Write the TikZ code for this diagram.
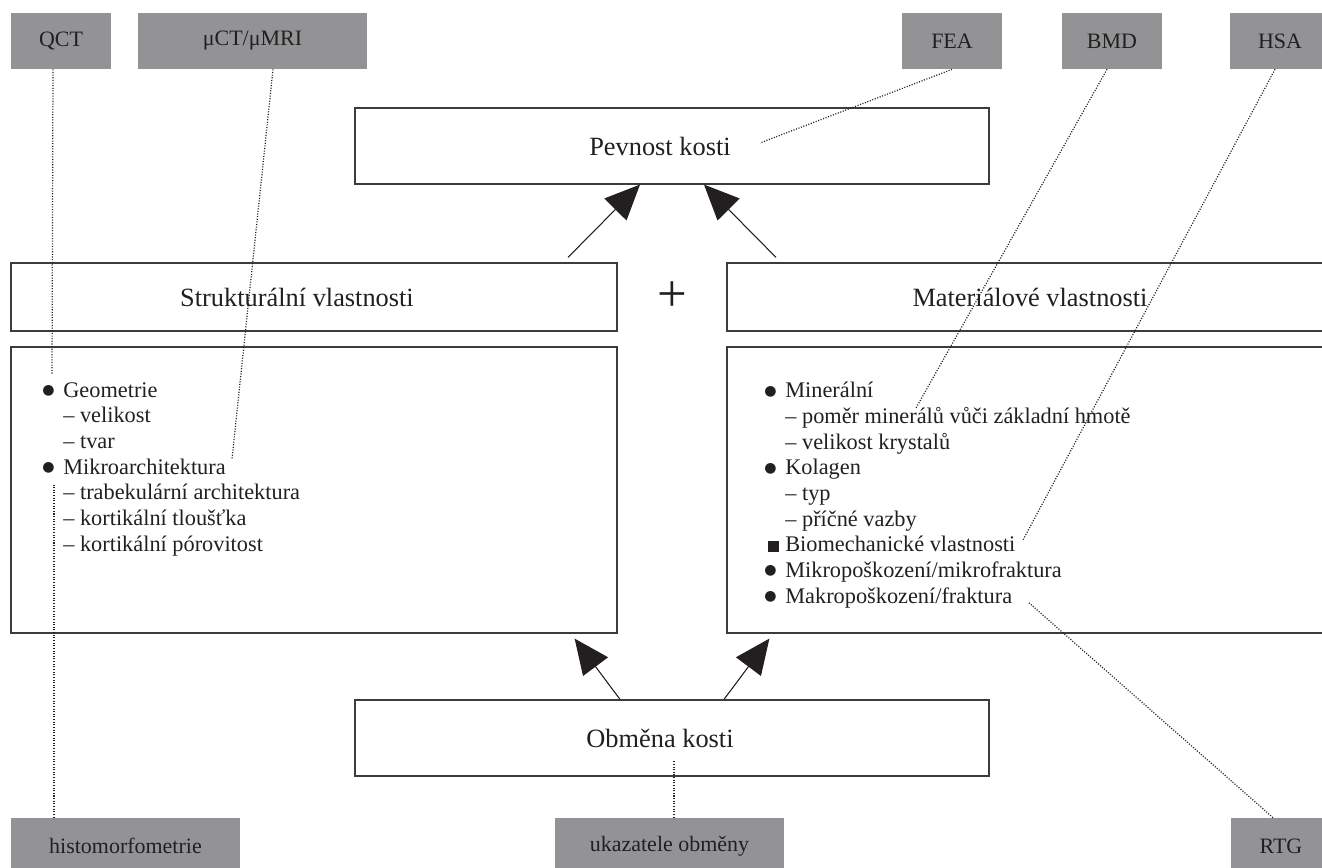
\documentclass[tikz,border=0pt]{standalone}
\usepackage{fontspec}
\setmainfont{Liberation Serif}
\newfontfamily\symbfont{DejaVu Sans}
\usetikzlibrary{arrows.meta}
\definecolor{boxgrey}{RGB}{147,147,150}
\definecolor{inkgrey}{RGB}{35,31,32}
\definecolor{framegrey}{RGB}{60,60,60}
\newcommand{\bul}{\llap{\raisebox{1.6pt}{\symbfont\fontsize{8}{0}\selectfont ●}\hspace{5pt}}}
\newcommand{\sqbul}{\llap{\rule{6.3pt}{6.3pt}\hspace{3.5pt}}}

\begin{document}
\begin{tikzpicture}
[
	greybox/.style={fill=boxgrey,inner sep=0pt,minimum height=1.12cm,text=inkgrey,font=\fontsize{12.5}{15}\selectfont},
	whitebox/.style={draw=framegrey,line width=0.7pt,inner sep=0pt,text=inkgrey,font=\fontsize{15}{18}\selectfont},
	listtext/.style={anchor=north west,inner sep=0pt,align=left,text=inkgrey,font=\fontsize{12.7}{14.6}\selectfont},
	bigarrow/.style={-{Triangle[length=0.7cm,width=0.62cm]},line width=0.6pt,draw=inkgrey,fill=inkgrey},
	probe/.style={line width=0.7pt,dash pattern=on 0.6pt off 0.9pt,draw=inkgrey},
	scale=1
]

	\useasboundingbox (0,0) rectangle (26.44,17.36);

	% methods
	\node[greybox,minimum width=2cm] at (1.22,16.54) (qct) {QCT};
	\node[greybox,minimum width=4.58cm] at (5.05,16.54) (mct) {μCT/μMRI};
	\node[greybox,minimum width=2cm] at (19.04,16.54) (fea) {FEA};
	\node[greybox,minimum width=2cm] at (22.24,16.54) (bmd) {BMD};
	\node[greybox,minimum width=2cm] at (25.6,16.54) (hsa) {HSA};
	\node[greybox,minimum width=4.58cm] at (2.51,0.44) (histo) {histomorfometrie};
	\node[greybox,minimum width=4.58cm] at (13.39,0.44) (turnind) {ukazatele obměny};
	\node[greybox,minimum width=2cm] at (25.62,0.44) (rtg) {RTG};

	% main boxes
	\node[whitebox,minimum width=12.68cm,minimum height=1.52cm] at (13.44,14.44) (pevnost) {Pevnost kosti\hspace*{0.48cm}};
	\node[whitebox,minimum width=12.12cm,minimum height=1.36cm] at (6.28,11.42) (struct) {Strukturální vlastnosti\hspace*{0.68cm}};
	\node[whitebox,minimum width=12.12cm,minimum height=1.36cm] at (20.6,11.42) (mater) {Materiálové vlastnosti};
	\node[font=\fontsize{30}{30}\selectfont,inner sep=0pt,text=inkgrey] at (13.44,11.42) (plus) {+};
	\node[whitebox,minimum width=12.12cm,minimum height=5.72cm] at (6.28,7.56) (strbox) {};
	\node[whitebox,minimum width=12.12cm,minimum height=5.72cm] at (20.6,7.56) (matbox) {};
	\node[whitebox,minimum width=12.68cm,minimum height=1.52cm] at (13.44,2.6) (turnover) {Obměna kosti\hspace*{0.48cm}};

	\node[listtext] at (1.26,9.72) (strlist) {\bul Geometrie\\
		– velikost\\
		– tvar\\
		\bul Mikroarchitektura\\
		– trabekulární architektura\\
		– kortikální tloušťka\\
		– kortikální pórovitost};

	\node[listtext] at (15.7,9.72) (matlist) {\bul Minerální\\
		– poměr minerálů vůči základní hmotě\\
		– velikost krystalů\\
		\bul Kolagen\\
		– typ\\
		– příčné vazby\\
		\sqbul Biomechanické vlastnosti\\
		\bul Mikropoškození/mikrofraktura\\
		\bul Makropoškození/fraktura};

	% arrows
	\draw[bigarrow] ([xshift=5.08cm,yshift=0.1cm]struct.north) -- ([xshift=-0.64cm]pevnost.south);
	\draw[bigarrow] ([xshift=-5.08cm,yshift=0.1cm]mater.north) -- ([xshift=0.64cm]pevnost.south);
	\draw[bigarrow] ([xshift=-1.04cm]turnover.north) -- ([xshift=-0.86cm,yshift=-0.1cm]strbox.south east);
	\draw[bigarrow] ([xshift=1.04cm]turnover.north) -- ([xshift=0.86cm,yshift=-0.1cm]matbox.south west);

	% dotted links
	\coordinate (qctend) at (1.04,9.86);
	\coordinate (mctend) at (4.64,8.18);
	\coordinate (histend) at (1.08,7.66);
	\coordinate (feaend) at (15.2,14.5);
	\coordinate (bmdend) at (18.32,9.2);
	\coordinate (hsaend) at (20.46,6.56);
	\coordinate (rtgend) at (20.56,5.32);
	\coordinate (turnend) at (13.48,2.16);

	\draw[probe] ([xshift=-0.16cm]qct.south) -- (qctend);
	\draw[probe] ([xshift=0.41cm]mct.south) -- (mctend);
	\draw[probe] ([xshift=-1.43cm]histo.north) -- (histend);
	\draw[probe] ([xshift=0.09cm]turnind.north) -- (turnend);
	\draw[probe] (fea.south) -- (feaend);
	\draw[probe] ([xshift=-0.1cm]bmd.south) -- (bmdend);
	\draw[probe] ([xshift=-0.1cm]hsa.south) -- (hsaend);
	\draw[probe] ([xshift=-0.16cm]rtg.north) -- (rtgend);

\end{tikzpicture}
\end{document}
